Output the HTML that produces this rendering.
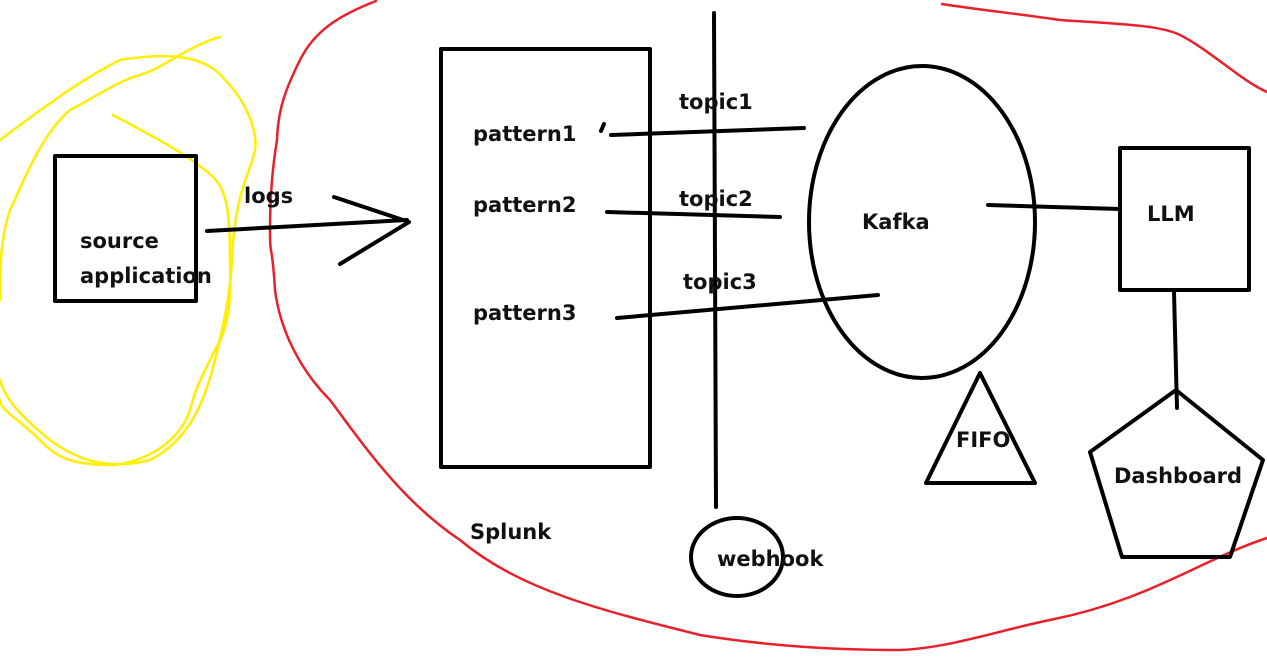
<!DOCTYPE html>
<html><head><meta charset="utf-8"><style>
html,body{margin:0;padding:0;background:#fff;width:1267px;height:657px;overflow:hidden}
svg text{font-family:"DejaVu Sans","Liberation Sans",sans-serif;font-weight:bold;font-size:21px;fill:#111}
</style></head><body>
<svg width="1267" height="657" viewBox="0 0 1267 657" xmlns="http://www.w3.org/2000/svg">
<g fill="none" stroke-linejoin="round" stroke-linecap="round">
<!-- red -->
<path d="M376,1 C340,15 315,30 300,60 C285,90 278,110 277,140 C272,170 270,200 270,230 C270,260 272,240 275,290 C280,330 300,370 330,400 C360,440 400,500 460,540 C520,590 600,610 700,635 C780,648 850,650 900,650 C950,648 1000,630 1050,620 C1150,600 1200,560 1267,538" stroke="#e8202a" stroke-width="2.5"/>
<path d="M942,4 C980,10 1020,14 1060,20 C1120,24 1160,25 1180,35 C1210,50 1240,80 1267,92" stroke="#e8202a" stroke-width="2.5"/>
<!-- yellow -->
<path d="M220,37 C190,45 160,70 140,75 C120,80 90,100 70,110 C40,135 20,190 10,210 C0,240 0,270 0,300" stroke="#ffee00" stroke-width="2.5"/>
<path d="M0,140 C40,110 80,80 120,60 C180,50 210,60 225,80 C245,100 258,130 255,150 C250,175 235,190 232,260 C230,300 222,330 215,360 C205,400 190,440 150,460 C110,470 80,462 50,440 C25,420 5,400 0,380" stroke="#ffee00" stroke-width="2.5"/>
<path d="M113,115 C150,135 180,150 205,170 C225,185 230,200 230,260 C232,300 228,330 215,350 C200,380 195,390 190,410 C180,440 150,460 115,465 C80,465 60,462 40,440 C20,420 0,410 0,400" stroke="#ffee00" stroke-width="2.5"/>
<!-- black shapes -->
<rect x="55" y="156" width="141" height="145" stroke="#000" stroke-width="4"/>
<rect x="441" y="49" width="209" height="418" stroke="#000" stroke-width="4"/>
<path d="M207,231 L407,220 M334,197 L409,222 L340,264" stroke="#000" stroke-width="4"/>
<path d="M714,13 L716,507" stroke="#000" stroke-width="4"/>
<path d="M601,131 L604,124 M611,135 L804,128 M607,212 L780,217 M617,318 L878,295" stroke="#000" stroke-width="4"/>
<ellipse cx="922" cy="222" rx="113" ry="156" stroke="#000" stroke-width="4"/>
<ellipse cx="737" cy="557" rx="46" ry="39" stroke="#000" stroke-width="4"/>
<path d="M988,205 L1120,209" stroke="#000" stroke-width="4"/>
<rect x="1120" y="148" width="129" height="142" stroke="#000" stroke-width="4"/>
<path d="M1174,292 L1177,408" stroke="#000" stroke-width="4"/>
<path d="M980,373 L926,483 L1035,483 Z" stroke="#000" stroke-width="4"/>
<path d="M1176,390 L1263,460 L1230,557 L1122,557 L1090,452 Z" stroke="#000" stroke-width="4"/>
</g>
<text x="80" y="248">source</text>
<text x="80" y="283">application</text>
<text x="244" y="203">logs</text>
<text x="473" y="141">pattern1</text>
<text x="473" y="212">pattern2</text>
<text x="473" y="320">pattern3</text>
<text x="679" y="109">topic1</text>
<text x="679" y="206">topic2</text>
<text x="683" y="289">topic3</text>
<text x="470" y="539">Splunk</text>
<text x="717" y="566">webhook</text>
<text x="862" y="229">Kafka</text>
<text x="1147" y="221">LLM</text>
<text x="956" y="447">FIFO</text>
<text x="1114" y="483">Dashboard</text>
</svg>
</body></html>
